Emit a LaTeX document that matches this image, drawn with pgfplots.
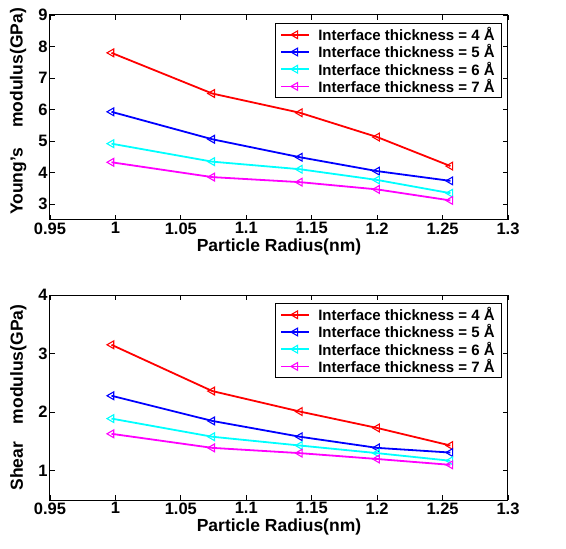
\documentclass[border=0pt]{standalone}
\usepackage{fontspec}
\setmainfont{Liberation Sans}
\usepackage{pgfplots}
\pgfplotsset{compat=1.18}
\definecolor{mred}{rgb}{1,0,0}
\definecolor{mblue}{rgb}{0,0,1}
\definecolor{mcyan}{rgb}{0,1,1}
\definecolor{mmag}{rgb}{1,0,1}

\pgfplotsset{
  modstyle/.style={
    scale only axis,
    width=458pt, height=205pt,
    xmin=0.95, xmax=1.3,
    xtick={0.95,1,1.05,1.1,1.15,1.2,1.25,1.3},
    tick align=inside,
    major tick length=5pt,
    axis line style={line width=1pt},
    every tick/.style={line width=0.8pt, black},
    font=\bfseries\fontsize{16.5}{18}\selectfont,
    tick label style={font=\bfseries\fontsize{16.5}{18}\selectfont},
    label style={font=\bfseries\fontsize{17.5}{19}\selectfont},
    /pgf/number format/assume math mode=true,
    xticklabel style={/pgf/number format/fixed, yshift=1pt},
    yticklabel style={xshift=1pt},
    xlabel={Particle Radius(nm)},
    xlabel style={yshift=2pt},
    ylabel style={yshift=5pt},
    legend cell align=left,
    legend style={at={(0.987,0.961)}, anchor=north east,
      draw=black, line width=0.8pt,
      font=\bfseries\fontsize{15}{17}\selectfont,
      row sep=-1.5pt, inner xsep=5pt, inner ysep=2pt},
    legend image code/.code={
      \draw[mark repeat=2, mark phase=2] plot coordinates {(0pt,0pt)(14pt,0pt)(28pt,0pt)};
      \path (0pt,0pt) (34pt,0pt);
    },
    every axis plot/.append style={line width=1.8pt, mark=triangle,
      mark size=4.5pt, mark options={rotate=90, solid, line width=1.1pt}},
  }
}

\begin{document}
\begin{tikzpicture}
\useasboundingbox (-50pt,-329pt) rectangle (516pt,220pt);

\begin{axis}[modstyle, at={(0,0)}, anchor=south west,
  ymin=2.5, ymax=9, ytick={3,4,5,6,7,8,9},
  ylabel={Young's\hspace{1.15em}modulus(GPa)},
  ylabel style={xshift=6pt}]
\addplot[mred] coordinates {(0.997,7.80) (1.074,6.51) (1.141,5.90) (1.200,5.13) (1.256,4.21)};
\addplot[mblue] coordinates {(0.997,5.93) (1.074,5.06) (1.141,4.49) (1.200,4.05) (1.256,3.74)};
\addplot[mcyan] coordinates {(0.997,4.92) (1.074,4.35) (1.141,4.11) (1.200,3.77) (1.256,3.35)};
\addplot[mmag] coordinates {(0.997,4.33) (1.074,3.86) (1.141,3.70) (1.200,3.47) (1.256,3.12)};
\legend{Interface thickness = 4 Å, Interface thickness = 5 Å, Interface thickness = 6 Å, Interface thickness = 7 Å}
\end{axis}

\begin{axis}[modstyle, at={(0,-280pt)}, anchor=south west,
  ymin=0.5, ymax=4, ytick={1,2,3,4},
  ylabel={Shear\hspace{1em}modulus(GPa)}]
\addplot[mred] coordinates {(0.997,3.15) (1.074,2.36) (1.141,2.01) (1.200,1.73) (1.256,1.43)};
\addplot[mblue] coordinates {(0.997,2.28) (1.074,1.85) (1.141,1.58) (1.200,1.39) (1.256,1.31)};
\addplot[mcyan] coordinates {(0.997,1.89) (1.074,1.58) (1.141,1.43) (1.200,1.30) (1.256,1.17)};
\addplot[mmag] coordinates {(0.997,1.63) (1.074,1.39) (1.141,1.30) (1.200,1.20) (1.256,1.10)};
\legend{Interface thickness = 4 Å, Interface thickness = 5 Å, Interface thickness = 6 Å, Interface thickness = 7 Å}
\end{axis}
\end{tikzpicture}
\end{document}
